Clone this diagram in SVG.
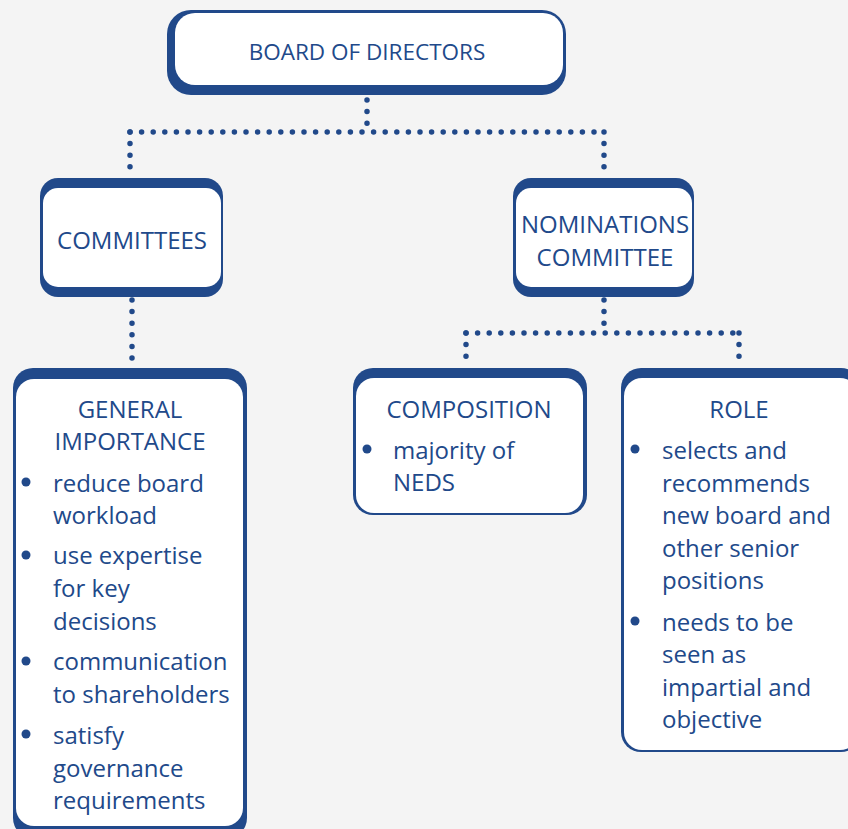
<svg xmlns="http://www.w3.org/2000/svg" width="848" height="829" viewBox="0 0 848 829">
<style>
.sh{fill:#21498a}
.bx{fill:#ffffff}
.t{font-family:"Open Sans","Noto Sans",sans-serif;fill:#21498a;font-size:24px}
.c{text-anchor:middle}
.dot{fill:none;stroke:#21498a;stroke-width:5.5;stroke-linecap:round;stroke-dasharray:0 11.6}
.b{fill:#21498a}
</style>
<rect width="848" height="829" fill="#f4f4f4"/>
<g id="connectors">
<path class="dot" d="M367 100 V132"/>
<path class="dot" d="M130 132 H604"/>
<path class="dot" d="M130 132 V178"/>
<path class="dot" d="M604 132 V178"/>
<path class="dot" d="M132 300 V366"/>
<path class="dot" d="M604 300 V333"/>
<path class="dot" d="M466 333 H739"/>
<path class="dot" d="M466 333 V366"/>
<path class="dot" d="M739 333 V366"/>
</g>
<g id="board">
<rect class="sh" x="167" y="10" width="399" height="85" rx="24"/>
<rect class="bx" x="175" y="13" width="388" height="72" rx="20"/>
<text class="t c" x="367" y="60" style="font-size:22.5px">BOARD OF DIRECTORS</text>
</g>
<g id="committees">
<rect class="sh" x="40" y="178" width="183" height="119" rx="18"/>
<rect class="bx" x="43" y="188" width="178" height="99" rx="15"/>
<text class="t c" x="132" y="249">COMMITTEES</text>
</g>
<g id="nominations">
<rect class="sh" x="513" y="178" width="181" height="119" rx="18"/>
<rect class="bx" x="516" y="188" width="176" height="99" rx="15"/>
<text class="t c" x="605" y="233">NOMINATIONS</text>
<text class="t c" x="605" y="266">COMMITTEE</text>
</g>
<g id="general">
<rect class="sh" x="13" y="368" width="234" height="470" rx="20"/>
<rect class="bx" x="16" y="379" width="227" height="447" rx="18"/>
<text class="t c" x="130" y="418">GENERAL</text>
<text class="t c" x="130" y="450">IMPORTANCE</text>
<circle class="b" cx="26" cy="482" r="4.5"/>
<text class="t" x="53" y="492">reduce board</text>
<text class="t" x="53" y="524">workload</text>
<circle class="b" cx="26" cy="555" r="4.5"/>
<text class="t" x="53" y="564">use expertise</text>
<text class="t" x="53" y="597">for key</text>
<text class="t" x="53" y="630">decisions</text>
<circle class="b" cx="26" cy="661" r="4.5"/>
<text class="t" x="53" y="670">communication</text>
<text class="t" x="53" y="703">to shareholders</text>
<circle class="b" cx="26" cy="734" r="4.5"/>
<text class="t" x="53" y="744">satisfy</text>
<text class="t" x="53" y="777">governance</text>
<text class="t" x="53" y="809">requirements</text>
</g>
<g id="composition">
<rect class="sh" x="353" y="368" width="234" height="147" rx="20"/>
<rect class="bx" x="356" y="378" width="227" height="135" rx="18"/>
<text class="t c" x="469" y="418">COMPOSITION</text>
<circle class="b" cx="367" cy="449" r="4.5"/>
<text class="t" x="393" y="459">majority of</text>
<text class="t" x="393" y="491">NEDS</text>
</g>
<g id="role">
<rect class="sh" x="621" y="368" width="240" height="384" rx="20"/>
<rect class="bx" x="624" y="378" width="234" height="372" rx="18"/>
<text class="t c" x="739" y="418">ROLE</text>
<circle class="b" cx="635" cy="449" r="4.5"/>
<text class="t" x="662" y="459">selects and</text>
<text class="t" x="662" y="492">recommends</text>
<text class="t" x="662" y="524">new board and</text>
<text class="t" x="662" y="557">other senior</text>
<text class="t" x="662" y="589">positions</text>
<circle class="b" cx="635" cy="621" r="4.5"/>
<text class="t" x="662" y="631">needs to be</text>
<text class="t" x="662" y="663">seen as</text>
<text class="t" x="662" y="696">impartial and</text>
<text class="t" x="662" y="728">objective</text>
</g>
</svg>
